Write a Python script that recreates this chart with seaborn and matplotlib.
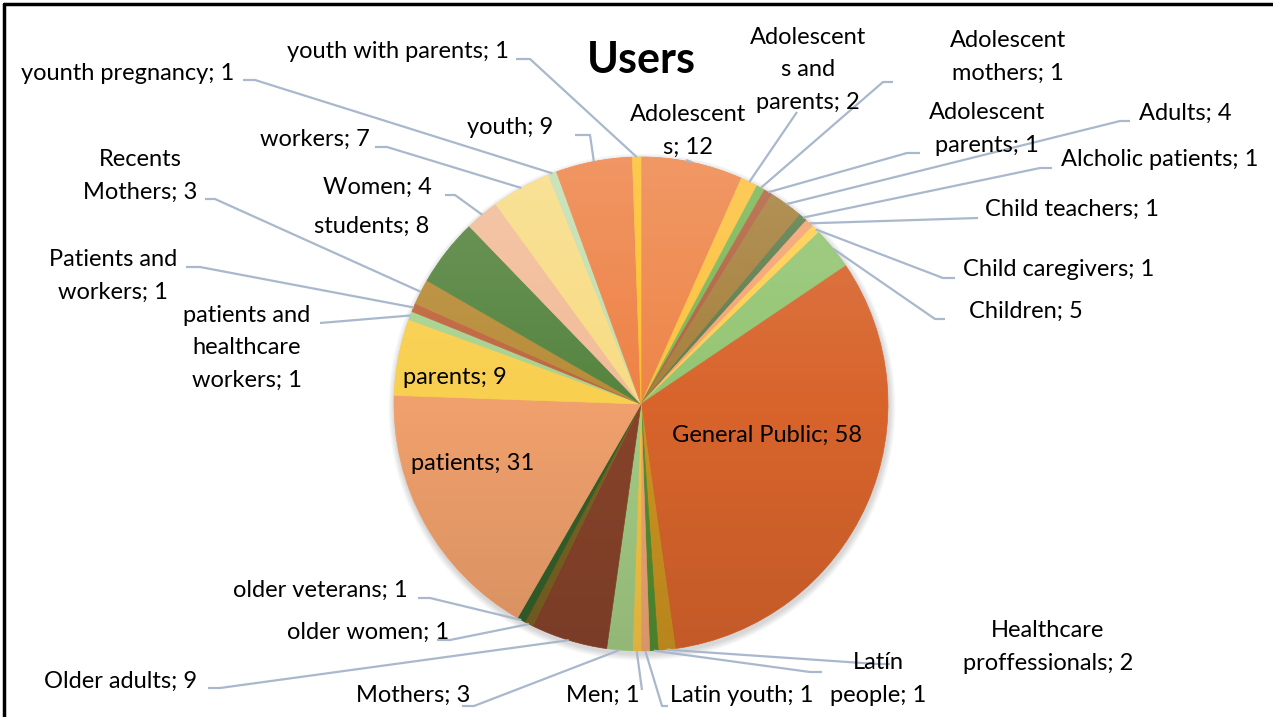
import numpy as np
import matplotlib
matplotlib.use("Agg")
import matplotlib.pyplot as plt
import seaborn as sns
from matplotlib.patches import Circle

sns.set_theme(style="white")
plt.rcParams['font.family'] = ['Lato', 'DejaVu Sans']

# ---------------- data ----------------
categories = [
    "Adolescents", "Adolescents and parents", "Adolescent mothers", "Adolescent parents",
    "Adults", "Alcholic patients", "Child teachers", "Child caregivers", "Children",
    "General Public", "Healthcare proffessionals", "Latín people", "Latin youth", "Men",
    "Mothers", "Older adults", "older women", "older veterans", "patients", "parents",
    "patients and healthcare workers", "Patients and workers", "Recents Mothers",
    "students", "Women", "workers", "younth pregnancy", "youth", "youth with parents",
]
values = [12, 2, 1, 1, 4, 1, 1, 1, 5, 58, 2, 1, 1, 1, 3, 9, 1, 1, 31, 9, 1, 1, 3, 8, 4, 7, 1, 9, 1]
display_labels = [
    "Adolescent\ns", "Adolescent\ns and\nparents", "Adolescent\nmothers", "Adolescent\nparents",
    "Adults", "Alcholic patients", "Child teachers", "Child caregivers", "Children",
    "General Public", "Healthcare\nproffessionals", "Latín\npeople", "Latin youth", "Men",
    "Mothers", "Older adults", "older women", "older veterans", "patients", "parents",
    "patients and\nhealthcare\nworkers", "Patients and\nworkers", "Recents\nMothers",
    "students", "Women", "workers", "younth pregnancy", "youth", "youth with parents",
]
colors = [
    "#EE8548", "#FDC23E", "#7CB756", "#B2623F", "#A6803C", "#5D7D4C", "#F4A472", "#FFCF4F",
    "#93C572", "#D8642C", "#CC9420", "#528D30", "#EEA574", "#F6C542", "#A3CB84", "#87432A",
    "#7A6222", "#34602A", "#EFA06C", "#F8CF4E", "#A8D290", "#C0653E", "#B88C38", "#55843F",
    "#F2BC98", "#F8DC84", "#C3DFB0", "#EE8246", "#FDC02E",
]

# ---------------- layout (pixel coords, y from top) ----------------
W, H = 1273, 717
CX, CY, R = 641, 404, 247

# label: (text center x, text center y, line start x, line start y, elbow x) ; None => no leader / inside
label_layout = {
    "Adolescents": (688, 131, 686, 160, None),
    "Adolescents and parents": (808, 70, 797, 112, None),
    "Adolescent mothers": (1008, 57, 893, 82, 883),
    "Adolescent parents": (987, 129, 920, 153, 907),
    "Adults": (1185, 113, 1130, 121, 1120),
    "Alcholic patients": (1160, 160, 1052, 168, 1040),
    "Child teachers": (1072, 209, 978, 218, None),
    "Child caregivers": (1059, 270, 955, 278, 943),
    "Children": (1026, 311, 945, 319, 935),
    "General Public": (767, 435, None, None, None),
    "Healthcare proffessionals": (1048, 647, 890, 664, 877),
    "Latín people": (878, 679, 822, 672, 810),
    "Latin youth": (742, 695, 668, 706, 662),
    "Men": (603, 695, 642, 690, None),
    "Mothers": (413, 695, 462, 706, 474),
    "Older adults": (121, 681, 208, 688, 220),
    "older women": (368, 632, 437, 640, 450),
    "older veterans": (320, 590, 418, 598, 430),
    "patients": (473, 464, None, None, None),
    "parents": (455, 378, None, None, None),
    "patients and healthcare workers": (247, 348, 320, 323, None),
    "Patients and workers": (113, 276, 186, 267, 200),
    "Recents Mothers": (140, 176, 205, 199, 215),
    "students": (372, 226, None, None, None),
    "Women": (377, 187, 445, 195, 455),
    "workers": (315, 139, 375, 147, 387),
    "younth pregnancy": (128, 74, 243, 80, 255),
    "youth": (510, 127, 575, 135, 590),
    "youth with parents": (398, 51, 516, 59, 530),
}

fig = plt.figure(figsize=(W / 100, H / 100), dpi=100)
ax = fig.add_axes([0, 0, 1, 1])

def fy(y):
    return H - y

# soft shadow
for i in range(8):
    ax.add_patch(Circle((CX + 1, fy(CY) - 3), R + 1 + i * 0.8, color="#000000",
                        alpha=0.018, lw=0, zorder=0))

wedges, _ = ax.pie(values, colors=colors, startangle=90, counterclock=False,
                   center=(CX, fy(CY)), radius=R,
                   wedgeprops=dict(linewidth=0.5), frame=False)
for w, c in zip(wedges, colors):
    w.set_edgecolor(c)
    w.set_zorder(2)

# vertical gradient overlay (lighter top, darker bottom)
grad = np.zeros((256, 1, 4))
t = np.linspace(0, 1, 256)
grad[:, 0, :3] = np.where(t[:, None] < 0.5, 1.0, 0.0)
grad[:, 0, 3] = np.where(t < 0.5, 0.16 * (1 - 2 * t), 0.10 * (2 * t - 1))
im = ax.imshow(grad, extent=(CX - R, CX + R, fy(CY) - R, fy(CY) + R), origin="upper",
               aspect="auto", zorder=3, interpolation="bilinear")
im.set_clip_path(Circle((CX, fy(CY)), R, transform=ax.transData))

ax.set_xlim(0, W)
ax.set_ylim(0, H)
ax.set_aspect("equal")
ax.axis("off")

line_color = "#A9B8CC"
FS = 17
for w, cat, lab, v in zip(wedges, categories, display_labels, values):
    tx, ty, lx, ly, ex = label_layout[cat]
    ax.text(tx, fy(ty), f"{lab}; {v}", ha="center", va="center", fontsize=FS,
            color="black", linespacing=1.65, zorder=5)
    if lx is None:
        continue
    ang = np.deg2rad((w.theta1 + w.theta2) / 2)
    px = CX + R * np.cos(ang)
    py = fy(CY) + R * np.sin(ang)
    xs = [lx]
    ys = [fy(ly)]
    if ex is not None:
        xs.append(ex)
        ys.append(fy(ly))
    xs.append(px)
    ys.append(py)
    ax.plot(xs, ys, color=line_color, lw=1.6, zorder=4, solid_capstyle="butt")

ax.text(641, fy(60), "Users", ha="center", va="center", fontsize=31,
        fontweight="bold", color="black", zorder=5)

# frame (top and left edges)
ax.plot([4, W], [fy(4), fy(4)], color="black", lw=2.5, zorder=6, clip_on=False)
ax.plot([4, 4], [fy(4), 0], color="black", lw=2.5, zorder=6, clip_on=False)

fig.savefig("out.png", dpi=100, facecolor="white")
